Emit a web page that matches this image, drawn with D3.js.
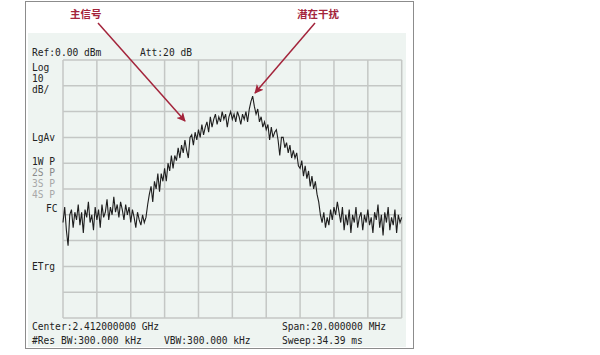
<!DOCTYPE html>
<html>
<head>
<meta charset="utf-8">
<script src="https://cdn.jsdelivr.net/npm/d3@7"></script>
<style>
  body { margin: 0; background: #fff; }
  .mono { font-family: "DejaVu Sans Mono", monospace; font-size: 9.6px; fill: #222; }
  .note { font-family: "Noto Sans CJK SC", sans-serif; font-size: 10.5px; font-weight: bold; fill: #a3243b; }
</style>
</head>
<body>
<div class="chart"></div>
<script>
// frequency offset from centre, MHz (one point every 0.1 MHz)
var freqStart = -10, freqStep = 0.1;
// trace level, dBm
var levels = [
  -63, -57, -66, -72, -60, -58, -65, -59, -62, -56,
  -64, -59, -67, -58, -61, -55, -63, -60, -66, -57,
  -62, -58, -65, -56, -61, -59, -54, -62, -57, -60,
  -53, -59, -56, -61, -55, -58, -62, -56, -60, -57,
  -63, -58, -61, -65, -59, -62, -64, -60, -63, -61,
  -56, -52, -49, -55, -47, -50, -44, -51, -44, -47,
  -42, -47, -40, -43, -37, -42, -37, -39, -34, -38,
  -33, -36, -31, -35, -38, -30, -29, -33, -28, -31,
  -27, -30, -25, -29, -26, -24, -28, -22, -26, -23,
  -21, -25, -22, -24, -20, -23, -21, -26, -22, -20,
  -23, -21, -24, -20, -22, -25, -21, -23, -20, -24,
  -19, -16, -14, -18, -21, -19, -24, -22, -26, -24,
  -27, -25, -31, -26, -30, -28, -27, -31, -37, -30,
  -30, -34, -32, -36, -33, -38, -35, -38, -36, -41,
  -42, -39, -45, -41, -46, -43, -49, -45, -50, -47,
  -52, -55, -60, -63, -59, -65, -61, -64, -58, -62,
  -57, -60, -55, -59, -63, -57, -66, -60, -64, -58,
  -67, -60, -63, -57, -65, -61, -59, -66, -60, -63,
  -58, -64, -61, -67, -59, -62, -56, -65, -60, -68,
  -59, -63, -57, -66, -61, -64, -58, -67, -60, -63,
  -61
];
var freqDivs = [-10, -8, -6, -4, -2, 0, 2, 4, 6, 8, 10];
var levelDivs = [0, -10, -20, -30, -40, -50, -60, -70, -80, -90, -100];

var headerTexts = [
  { t: "Ref:0.00 dBm", x: 32, y: 56 },
  { t: "Att:20 dB", x: 140, y: 56 }
];
var sideTexts = [
  { t: "Log", x: 32, y: 71, c: "#222" },
  { t: "10", x: 32, y: 82, c: "#222" },
  { t: "dB/", x: 32, y: 93, c: "#222" },
  { t: "LgAv", x: 32, y: 141, c: "#222" },
  { t: "1W P", x: 32, y: 165, c: "#222" },
  { t: "2S P", x: 32, y: 176, c: "#8a8a8a" },
  { t: "3S P", x: 32, y: 187, c: "#a8a8a8" },
  { t: "4S P", x: 32, y: 198, c: "#a8a8a8" },
  { t: "FC", x: 46, y: 212, c: "#222" },
  { t: "ETrg", x: 32, y: 270, c: "#222" }
];
var footerTexts = [
  { t: "Center:2.412000000 GHz", x: 32, y: 330 },
  { t: "#Res BW:300.000 kHz", x: 32, y: 344 },
  { t: "VBW:300.000 kHz", x: 164, y: 344 },
  { t: "Span:20.000000 MHz", x: 282, y: 330 },
  { t: "Sweep:34.39 ms", x: 282, y: 344 }
];
var notes = [
  { t: "主信号", x: 70, y: 18, from: [98, 23], to: [185, 121] },
  { t: "潜在干扰", x: 297, y: 18, from: [315, 23], to: [255, 93] }
];

var svg = d3.select(".chart").append("svg")
    .attr("width", 600)
    .attr("height", 355);

var defs = svg.append("defs");
defs.append("marker")
    .attr("id", "head")
    .attr("viewBox", "0 0 10 10")
    .attr("refX", 9)
    .attr("refY", 5)
    .attr("markerWidth", 9)
    .attr("markerHeight", 9)
    .attr("markerUnits", "userSpaceOnUse")
    .attr("orient", "auto")
    .append("path")
    .attr("d", "M0,0 L10,5 L0,10 L2.5,5 Z")
    .attr("fill", "#a3243b");

// outer frame
svg.append("rect")
    .attr("x", 25.5).attr("y", 1.5)
    .attr("width", 388).attr("height", 347)
    .attr("fill", "#fff")
    .attr("stroke", "#8c8c8c");

// analyzer screen
svg.append("rect")
    .attr("x", 28).attr("y", 33)
    .attr("width", 378).attr("height", 314)
    .attr("fill", "#eef4f1");

var x = d3.scaleLinear().domain([-10, 10]).range([63, 401.7]);
var y = d3.scaleLinear().domain([-100, 0]).range([318, 60]);

// grid
svg.append("g").selectAll("line")
    .data(freqDivs).enter().append("line")
    .attr("x1", function(d){ return x(d); })
    .attr("x2", function(d){ return x(d); })
    .attr("y1", y(0)).attr("y2", y(-100))
    .attr("stroke", "#c4c7c5")
    .attr("stroke-width", 1.5);

svg.append("g").selectAll("line")
    .data(levelDivs).enter().append("line")
    .attr("x1", x(-10)).attr("x2", x(10))
    .attr("y1", function(d){ return y(d); })
    .attr("y2", function(d){ return y(d); })
    .attr("stroke", "#c4c7c5")
    .attr("stroke-width", 1.5);

// trace
var line = d3.line()
    .x(function(d, i){ return x(freqStart + i * freqStep); })
    .y(function(d){ return y(d); });

svg.append("path")
    .datum(levels)
    .attr("d", line)
    .attr("fill", "none")
    .attr("stroke", "#1e1e1e")
    .attr("stroke-width", 1.1)
    .attr("stroke-linejoin", "miter");

// screen texts
svg.append("g").selectAll("text")
    .data(headerTexts.concat(footerTexts)).enter().append("text")
    .attr("class", "mono")
    .attr("x", function(d){ return d.x; })
    .attr("y", function(d){ return d.y; })
    .text(function(d){ return d.t; });

svg.append("g").selectAll("text")
    .data(sideTexts).enter().append("text")
    .attr("class", "mono")
    .attr("x", function(d){ return d.x; })
    .attr("y", function(d){ return d.y; })
    .style("fill", function(d){ return d.c; })
    .text(function(d){ return d.t; });

// annotations
var ann = svg.append("g");
ann.selectAll("line")
    .data(notes).enter().append("line")
    .attr("x1", function(d){ return d.from[0]; })
    .attr("y1", function(d){ return d.from[1]; })
    .attr("x2", function(d){ return d.to[0]; })
    .attr("y2", function(d){ return d.to[1]; })
    .attr("stroke", "#a3243b")
    .attr("stroke-width", 1.5)
    .attr("marker-end", "url(#head)");

ann.selectAll("text")
    .data(notes).enter().append("text")
    .attr("class", "note")
    .attr("x", function(d){ return d.x; })
    .attr("y", function(d){ return d.y; })
    .text(function(d){ return d.t; })
</script>
</body>
</html>
